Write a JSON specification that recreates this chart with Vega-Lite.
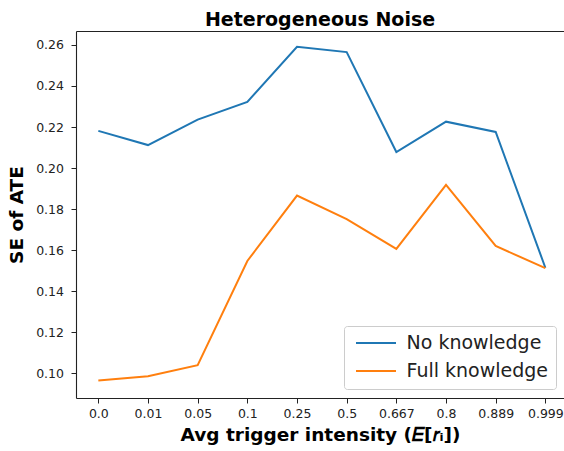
{
  "$schema": "https://vega.github.io/schema/vega-lite/v6.json",
  "autosize": "none",
  "padding": {"left": 76, "top": 31, "right": 0, "bottom": 53},
  "width": 488,
  "height": 367,
  "background": "white",
  "config": {
    "font": "DejaVu Sans",
    "view": {"stroke": null},
    "axis": {"grid": false, "domainColor": "#222", "tickColor": "#222", "labelColor": "#222", "titleColor": "#000", "tickSize": 5, "domainWidth": 1.1, "tickWidth": 1},
    "legend": {"labelFont": "DejaVu Sans"}
  },
  "title": {"text": "Heterogeneous Noise", "fontSize": 19, "fontWeight": "bold", "font": "DejaVu Sans", "color": "#000", "anchor": "middle", "baseline": "alphabetic", "offset": 6.5, "dy": 20},
  "data": {"values": [
    {"x": "0.0", "series": "No knowledge", "se": 0.2181},
    {"x": "0.01", "series": "No knowledge", "se": 0.2112},
    {"x": "0.05", "series": "No knowledge", "se": 0.2236},
    {"x": "0.1", "series": "No knowledge", "se": 0.2322},
    {"x": "0.25", "series": "No knowledge", "se": 0.2591},
    {"x": "0.5", "series": "No knowledge", "se": 0.2565},
    {"x": "0.667", "series": "No knowledge", "se": 0.2078},
    {"x": "0.8", "series": "No knowledge", "se": 0.2226},
    {"x": "0.889", "series": "No knowledge", "se": 0.2176},
    {"x": "0.999", "series": "No knowledge", "se": 0.1514},
    {"x": "0.0", "series": "Full knowledge", "se": 0.0964},
    {"x": "0.01", "series": "Full knowledge", "se": 0.0985},
    {"x": "0.05", "series": "Full knowledge", "se": 0.1039},
    {"x": "0.1", "series": "Full knowledge", "se": 0.1547},
    {"x": "0.25", "series": "Full knowledge", "se": 0.1866},
    {"x": "0.5", "series": "Full knowledge", "se": 0.1751},
    {"x": "0.667", "series": "Full knowledge", "se": 0.1606},
    {"x": "0.8", "series": "Full knowledge", "se": 0.1918},
    {"x": "0.889", "series": "Full knowledge", "se": 0.1620},
    {"x": "0.999", "series": "Full knowledge", "se": 0.1512}
  ]},
  "layer": [
    {
      "mark": {"type": "line", "strokeWidth": 2},
      "encoding": {
        "x": {"field": "x", "type": "ordinal", "sort": ["0.0", "0.01", "0.05", "0.1", "0.25", "0.5", "0.667", "0.8", "0.889", "0.999"],
          "scale": {"type": "point", "padding": 0.4125, "align": 0.545},
          "axis": {"orient": "bottom", "labelAngle": 0, "labelFontSize": 12.5, "labelPadding": 4, "title": "Avg trigger intensity (𝐸[𝑟ᵢ])", "titleFontSize": 18.5, "titleFontWeight": "bold", "titlePadding": 6}},
        "y": {"field": "se", "type": "quantitative",
          "scale": {"domain": [0.0879, 0.2668], "nice": false, "zero": false},
          "axis": {"values": [0.10, 0.12, 0.14, 0.16, 0.18, 0.20, 0.22, 0.24, 0.26], "format": ".2f", "labelFontSize": 12.5, "labelPadding": 7.5, "title": "SE of ATE", "titleFontSize": 18.5, "titleFontWeight": "bold", "titlePadding": 9}},
        "color": {"field": "series", "type": "nominal",
          "scale": {"domain": ["No knowledge", "Full knowledge"], "range": ["#1f77b4", "#ff7f0e"]},
          "legend": {"title": null, "orient": "none", "legendX": 268, "legendY": 295, "symbolType": "M-1,0H7", "symbolSize": 100, "symbolStrokeWidth": 2, "labelFontSize": 19, "labelColor": "#222", "labelOffset": 36, "fillColor": "white", "strokeColor": "#cccccc", "cornerRadius": 3, "padding": 7.5, "rowPadding": 8}}
      }
    },
    {
      "mark": {"type": "line", "opacity": 0},
      "encoding": {
        "x": {"field": "x", "type": "ordinal", "sort": ["0.0", "0.01", "0.05", "0.1", "0.25", "0.5", "0.667", "0.8", "0.889", "0.999"],
          "axis": {"orient": "top", "labels": false, "ticks": false, "title": null, "minExtent": 0, "maxExtent": 0}},
        "y": {"field": "se", "type": "quantitative"},
        "detail": {"field": "series"}
      }
    }
  ],
  "resolve": {"axis": {"x": "independent"}}
}
